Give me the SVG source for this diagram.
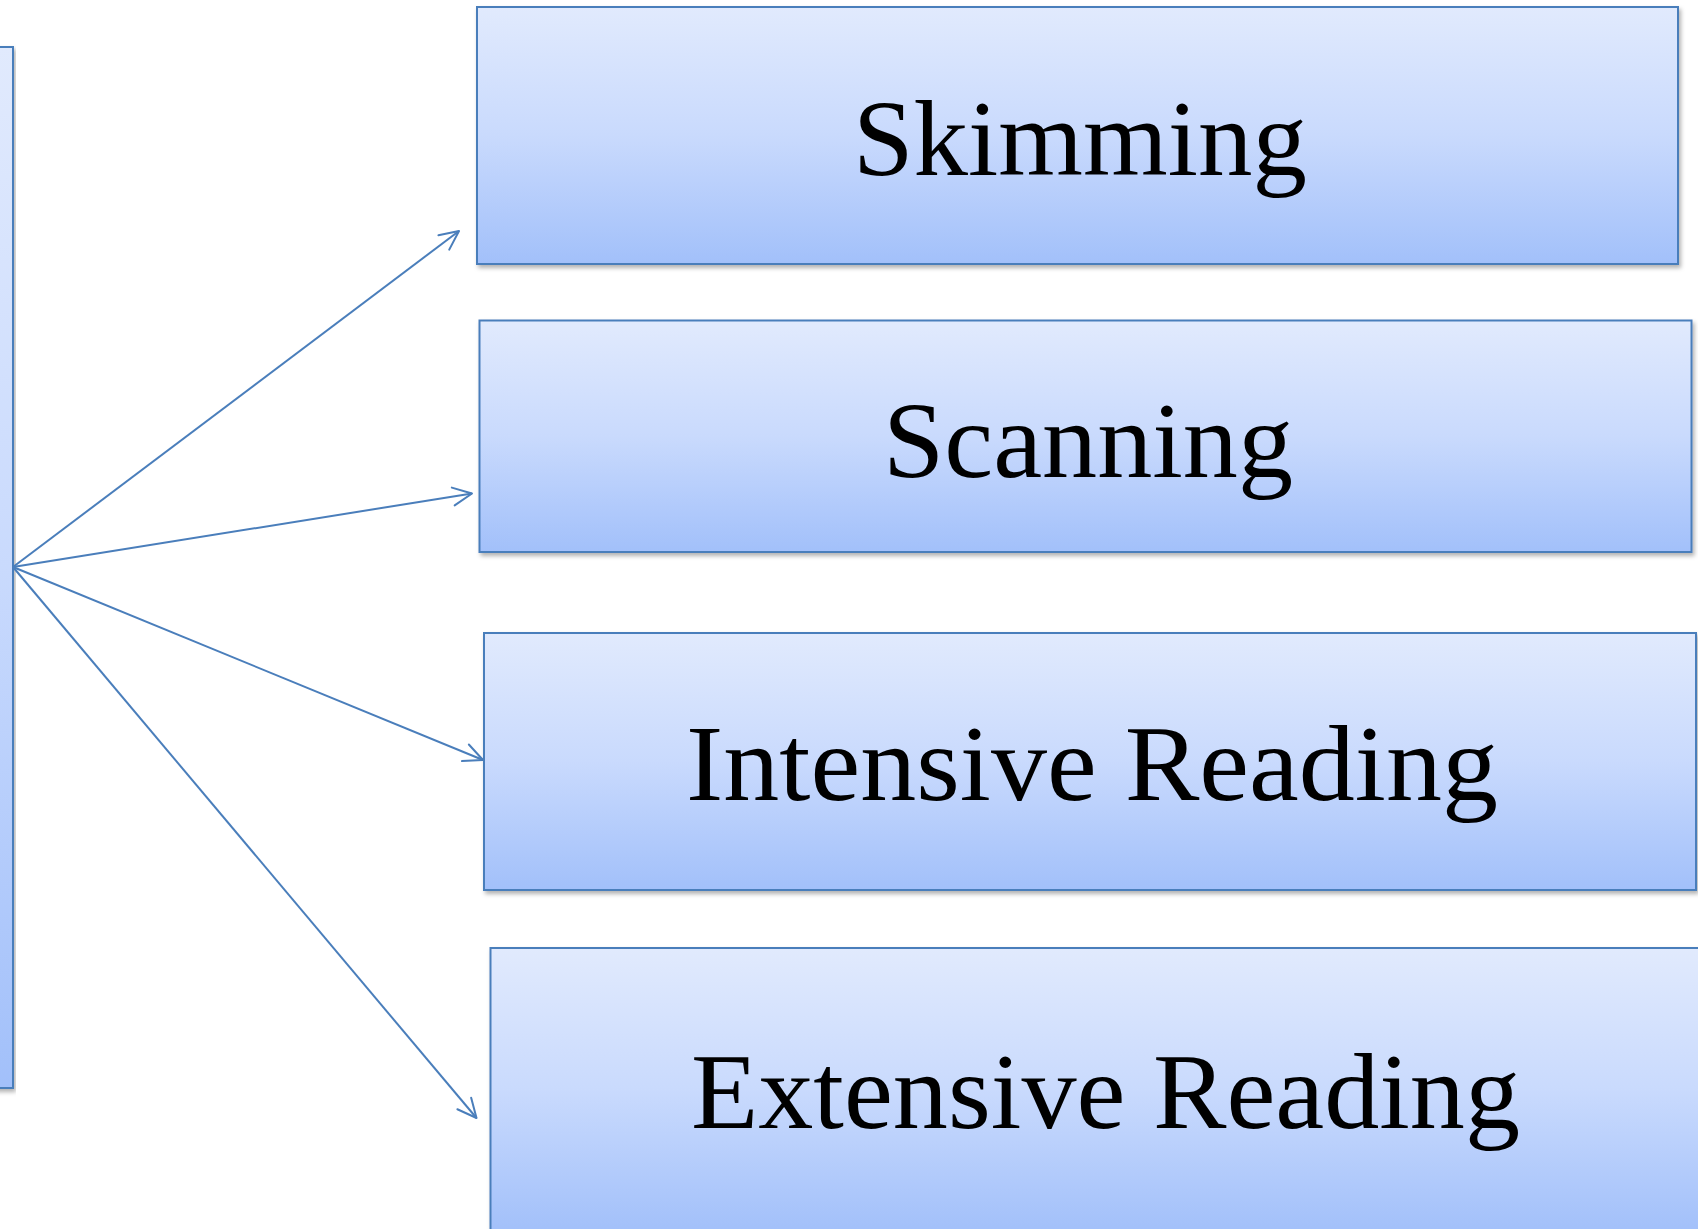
<svg xmlns="http://www.w3.org/2000/svg" width="1698" height="1229" viewBox="0 0 1698 1229">
  <style>
    .box { fill: url(#boxFill); stroke: #4a7ebb; stroke-width: 2; filter: url(#shadow); }
    .label { font-family: "Liberation Serif", "Times New Roman", serif; font-size: 109px; fill: #000; text-anchor: middle; }
    .link { stroke: #4a7ebb; stroke-width: 2; fill: none; marker-end: url(#openArrow); }
  </style>
  <defs>
    <linearGradient id="boxFill" x1="0" y1="0" x2="0" y2="1">
      <stop offset="0" stop-color="#e1eafd"/>
      <stop offset="0.5" stop-color="#c9dafd"/>
      <stop offset="1" stop-color="#a2c0fa"/>
    </linearGradient>
    <filter id="shadow" x="-5%" y="-5%" width="110%" height="115%">
      <feDropShadow dx="2" dy="3" stdDeviation="2" flood-color="#000" flood-opacity="0.3"/>
    </filter>
    <marker id="openArrow" markerUnits="userSpaceOnUse" viewBox="-22 -11 24 22" refX="0" refY="0" markerWidth="24" markerHeight="22" orient="auto" overflow="visible">
      <path d="M-19,-9 L0,0 L-19,9" fill="none" stroke="#4a7ebb" stroke-width="2" stroke-linecap="round" stroke-linejoin="round"/>
    </marker>
  </defs>

  <!-- source box, mostly off the left edge -->
  <g id="node-source">
    <rect class="box" x="-30" y="47" width="43" height="1041"/>
  </g>

  <!-- connectors fanning out from the source box -->
  <g id="connectors">
    <line class="link" x1="13" y1="567" x2="459" y2="231"/>
    <line class="link" x1="13" y1="567" x2="472" y2="493.5"/>
    <line class="link" x1="13" y1="567" x2="483" y2="760"/>
    <line class="link" x1="13" y1="567" x2="476.5" y2="1118"/>
  </g>

  <g id="node-skimming">
    <rect class="box" x="477" y="7" width="1201" height="257"/>
    <text class="label" x="1080" y="175" textLength="454" lengthAdjust="spacingAndGlyphs">Skimming</text>
  </g>

  <g id="node-scanning">
    <rect class="box" x="479.5" y="320.5" width="1212" height="231.5"/>
    <text class="label" x="1088" y="477" textLength="410" lengthAdjust="spacingAndGlyphs">Scanning</text>
  </g>

  <g id="node-intensive">
    <rect class="box" x="484" y="633" width="1212" height="257"/>
    <text class="label" x="1092" y="800" textLength="812" lengthAdjust="spacingAndGlyphs">Intensive Reading</text>
  </g>

  <g id="node-extensive">
    <rect class="box" x="490.5" y="948" width="1240" height="284"/>
    <text class="label" x="1105.5" y="1128" textLength="829" lengthAdjust="spacingAndGlyphs">Extensive Reading</text>
  </g>
</svg>
